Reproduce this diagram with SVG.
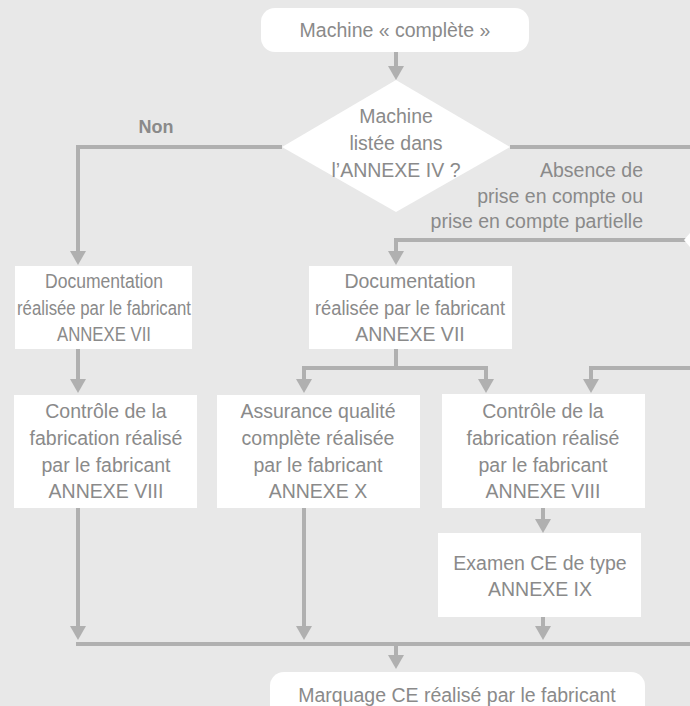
<svg xmlns="http://www.w3.org/2000/svg" xmlns:xlink="http://www.w3.org/1999/xlink" width="690" height="706" viewBox="0 0 690 706">
<style>
.bg{fill:#e8e8e8}
.box{fill:#ffffff}
.ln{fill:none;stroke:#b0b0b0;stroke-width:4}
.ah{fill:#b0b0b0}
text{font-family:"Liberation Sans",Arial,Helvetica,sans-serif;font-size:19.5px;fill:#8a8a8a}
.c{text-anchor:middle}
.r{text-anchor:end}
.b{font-weight:bold;font-size:18px}
</style>
<defs>
<path id="ah" class="ah" d="M-8,-14 L8,-14 L0,0 Z"/>
</defs>
<rect class="bg" x="0" y="0" width="690" height="706"/>

<g id="connectors">
<path class="ln" d="M396,52 V67"/>
<use xlink:href="#ah" href="#ah" x="396" y="80"/>
<path class="ln" d="M282,147 H78 V252"/>
<use xlink:href="#ah" href="#ah" x="78" y="265"/>
<path class="ln" d="M510,147 H690"/>
<path class="ln" d="M690,240 H396 V252"/>
<use xlink:href="#ah" href="#ah" x="396" y="265"/>
<path class="ln" d="M78,349 V380"/>
<use xlink:href="#ah" href="#ah" x="78" y="393"/>
<path class="ln" d="M396,349 V368 M304,380 V368 H486 V380"/>
<use xlink:href="#ah" href="#ah" x="304" y="393"/>
<use xlink:href="#ah" href="#ah" x="486" y="393"/>
<path class="ln" d="M690,368 H591 V380"/>
<use xlink:href="#ah" href="#ah" x="591" y="393"/>
<path class="ln" d="M543,508 V520"/>
<use xlink:href="#ah" href="#ah" x="543" y="533"/>
<path class="ln" d="M78,508 V627"/>
<use xlink:href="#ah" href="#ah" x="78" y="640"/>
<path class="ln" d="M304,508 V627"/>
<use xlink:href="#ah" href="#ah" x="304" y="640"/>
<path class="ln" d="M543,617 V627"/>
<use xlink:href="#ah" href="#ah" x="543" y="640"/>
<path class="ln" d="M76,644 H690"/>
<path class="ln" d="M396,644 V656"/>
<use xlink:href="#ah" href="#ah" x="396" y="669"/>
</g>

<g id="label-non"><text class="c b" x="156" y="133">Non</text></g>
<g id="label-absence">
<text class="r" x="643" y="177">Absence de</text>
<text class="r" x="643" y="203">prise en compte ou</text>
<text class="r" x="643" y="228">prise en compte partielle</text>
</g>

<g id="start">
<rect class="box" x="261" y="8" width="268" height="44" rx="14"/>
<text class="c" x="395" y="37">Machine « complète »</text>
</g>

<g id="decision">
<polygon class="box" points="396,80 510,147 396,212 282,147"/>
<text class="c" x="396" y="123">Machine</text>
<text class="c" x="396" y="150">listée dans</text>
<text class="c" x="396" y="177">l’ANNEXE IV ?</text>
</g>

<g id="offscreen-tip"><polygon class="box" points="690,233 684,240 690,247"/></g>

<g id="doc-left">
<rect class="box" x="15" y="266" width="177" height="83"/>
<text class="c" x="104" y="288" textLength="118" lengthAdjust="spacingAndGlyphs">Documentation</text>
<text class="c" x="104" y="315" textLength="174" lengthAdjust="spacingAndGlyphs">réalisée par le fabricant</text>
<text class="c" x="104" y="341" textLength="94" lengthAdjust="spacingAndGlyphs">ANNEXE VII</text>
</g>

<g id="doc-mid">
<rect class="box" x="309" y="266" width="203" height="83"/>
<text class="c" x="410" y="288">Documentation</text>
<text class="c" x="410" y="315" textLength="190" lengthAdjust="spacingAndGlyphs">réalisée par le fabricant</text>
<text class="c" x="410" y="341">ANNEXE VII</text>
</g>

<g id="ctrl-left">
<rect class="box" x="14" y="395" width="183" height="113"/>
<text class="c" x="106" y="418">Contrôle de la</text>
<text class="c" x="106" y="445">fabrication réalisé</text>
<text class="c" x="106" y="472">par le fabricant</text>
<text class="c" x="106" y="498">ANNEXE VIII</text>
</g>

<g id="qa-mid">
<rect class="box" x="217" y="395" width="203" height="113"/>
<text class="c" x="318" y="418">Assurance qualité</text>
<text class="c" x="318" y="445">complète réalisée</text>
<text class="c" x="318" y="472">par le fabricant</text>
<text class="c" x="318" y="498">ANNEXE X</text>
</g>

<g id="ctrl-right">
<rect class="box" x="442" y="394" width="203" height="114"/>
<text class="c" x="543" y="418">Contrôle de la</text>
<text class="c" x="543" y="445">fabrication réalisé</text>
<text class="c" x="543" y="472">par le fabricant</text>
<text class="c" x="543" y="498">ANNEXE VIII</text>
</g>

<g id="examen">
<rect class="box" x="438" y="533" width="203" height="84"/>
<text class="c" x="540" y="570">Examen CE de type</text>
<text class="c" x="540" y="596">ANNEXE IX</text>
</g>

<g id="end">
<rect class="box" x="270" y="672" width="375" height="50" rx="14"/>
<text class="c" x="457" y="702">Marquage CE réalisé par le fabricant</text>
</g>
</svg>
